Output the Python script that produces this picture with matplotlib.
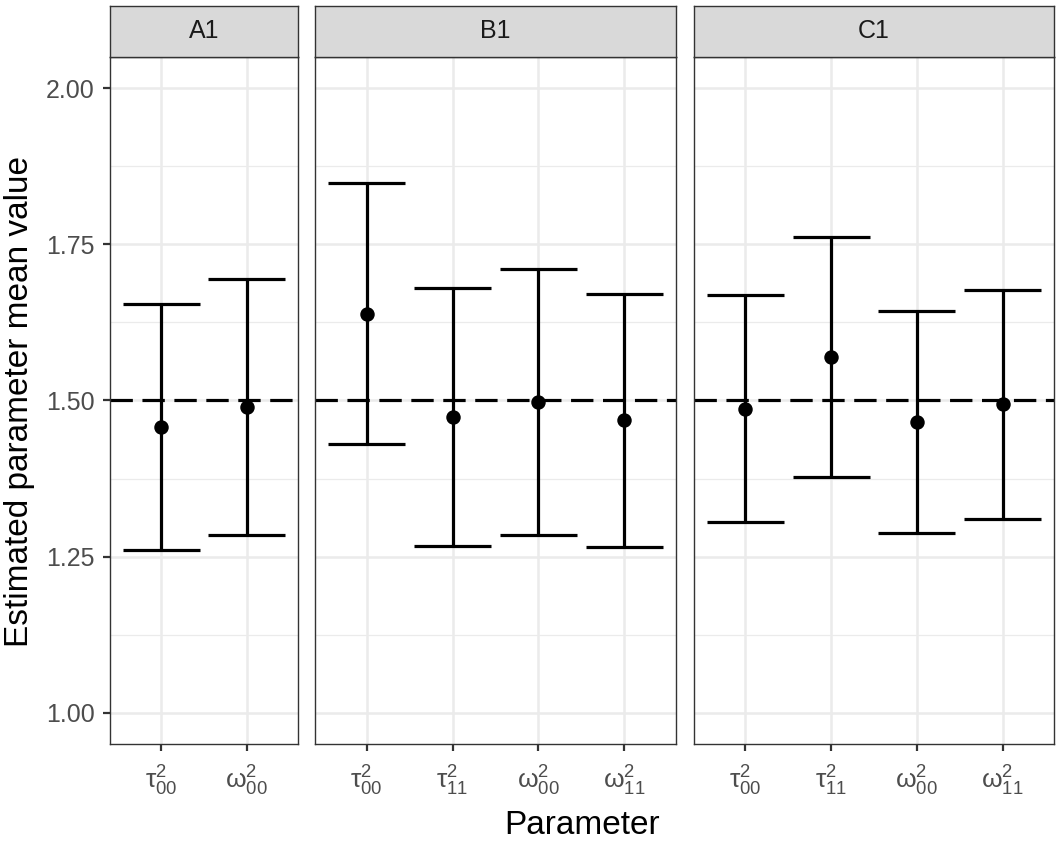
import matplotlib
matplotlib.use('Agg')
import matplotlib.pyplot as plt
import numpy as np

plt.rcParams['font.family'] = ['Liberation Sans', 'DejaVu Sans']
plt.rcParams['mathtext.fontset'] = 'custom'
plt.rcParams['mathtext.rm'] = 'Liberation Sans'
plt.rcParams['mathtext.it'] = 'Liberation Sans:italic'
plt.rcParams['mathtext.bf'] = 'Liberation Sans:bold'

# ---------------- data ----------------
panels = ['A1', 'B1', 'C1']

A1_params = ['tau00', 'omega00']
A1_mean = [1.457, 1.490]
A1_lower = [1.261, 1.285]
A1_upper = [1.654, 1.694]

B1_params = ['tau00', 'tau11', 'omega00', 'omega11']
B1_mean = [1.639, 1.474, 1.498, 1.469]
B1_lower = [1.430, 1.267, 1.284, 1.266]
B1_upper = [1.848, 1.680, 1.711, 1.670]

C1_params = ['tau00', 'tau11', 'omega00', 'omega11']
C1_mean = [1.487, 1.570, 1.465, 1.494]
C1_lower = [1.305, 1.378, 1.288, 1.310]
C1_upper = [1.669, 1.761, 1.644, 1.677]

param_labels = {
    'tau00': r'$\mathregular{τ_{00}^{2}}$',
    'tau11': r'$\mathregular{τ_{11}^{2}}$',
    'omega00': r'$\mathregular{ω_{00}^{2}}$',
    'omega11': r'$\mathregular{ω_{11}^{2}}$',
}

reference_value = 1.5
y_ticks = [1.00, 1.25, 1.50, 1.75, 2.00]
y_minor = [1.125, 1.375, 1.625, 1.875]
y_label = 'Estimated parameter mean value'
x_label = 'Parameter'

panel_data = {
    'A1': (A1_params, A1_mean, A1_lower, A1_upper),
    'B1': (B1_params, B1_mean, B1_lower, B1_upper),
    'C1': (C1_params, C1_mean, C1_lower, C1_upper),
}

# ---------------- layout ----------------
W, H = 1063, 842
DPI = 100
fig = plt.figure(figsize=(W / DPI, H / DPI), dpi=DPI)
fig.patch.set_facecolor('white')

def rect(x0, x1, y0, y1):
    return [x0 / W, 1 - y1 / H, (x1 - x0) / W, (y1 - y0) / H]

panel_x = {'A1': (110, 298), 'B1': (315, 676), 'C1': (694, 1054)}
plot_top, plot_bot = 57, 744
strip_top = 6

border_col = '#333333'
grid_col = '#EBEBEB'
lw_main = 2.3
cap_half = 0.45

for i, name in enumerate(panels):
    params, mean, lower, upper = panel_data[name]
    x0, x1 = panel_x[name]
    ax = fig.add_axes(rect(x0, x1, plot_top, plot_bot))
    n = len(params)
    xs = np.arange(1, n + 1)
    mean = np.array(mean); lower = np.array(lower); upper = np.array(upper)

    ax.set_xlim(0.4, n + 0.6)
    ax.set_ylim(0.95, 2.05)

    # grid
    for yv in y_minor:
        ax.axhline(yv, color=grid_col, lw=0.9, zorder=0)
    for yv in y_ticks:
        ax.axhline(yv, color=grid_col, lw=1.8, zorder=0)
    for xv in xs:
        ax.axvline(xv, color=grid_col, lw=1.8, zorder=0)

    # reference line
    ax.axhline(reference_value, color='black', lw=lw_main,
               linestyle=(0, (7, 3)), zorder=2)

    # error bars
    ax.vlines(xs, lower, upper, color='black', lw=lw_main, zorder=3,
              capstyle='butt')
    ax.hlines(lower, xs - cap_half, xs + cap_half, color='black', lw=lw_main,
              zorder=3, capstyle='butt')
    ax.hlines(upper, xs - cap_half, xs + cap_half, color='black', lw=lw_main,
              zorder=3, capstyle='butt')
    ax.plot(xs, mean, 'o', color='black', ms=9.4, zorder=4)

    ax.set_xticks(xs)
    ax.set_xticklabels([param_labels[p] for p in params], fontsize=19,
                       color='#4D4D4D')
    ax.tick_params(axis='x', length=5, width=1.6, color=border_col, pad=9)
    if i == 0:
        ax.set_yticks(y_ticks)
        ax.set_yticklabels(['%.2f' % v for v in y_ticks], fontsize=18,
                           color='#4D4D4D')
        ax.tick_params(axis='y', length=5, width=1.6, color=border_col, pad=6)
    else:
        ax.set_yticks([])
    for sp in ax.spines.values():
        sp.set_color(border_col)
        sp.set_linewidth(1.0)

    # strip
    sax = fig.add_axes(rect(x0, x1, strip_top, plot_top))
    sax.set_facecolor('#D9D9D9')
    sax.set_xticks([]); sax.set_yticks([])
    for sp in sax.spines.values():
        sp.set_color(border_col)
        sp.set_linewidth(1.0)
    sax.text(0.5, 0.5, name, ha='center', va='center', fontsize=18,
             color='#1A1A1A', transform=sax.transAxes)

fig.text(20 / W, 1 - 401.5 / H, y_label, rotation=90, ha='center',
         va='center', fontsize=24, color='black')
fig.text(582 / W, 1 - 834 / H, x_label, ha='center', va='baseline',
         fontsize=24, color='black')

fig.savefig('out.png', dpi=DPI, facecolor='white')
